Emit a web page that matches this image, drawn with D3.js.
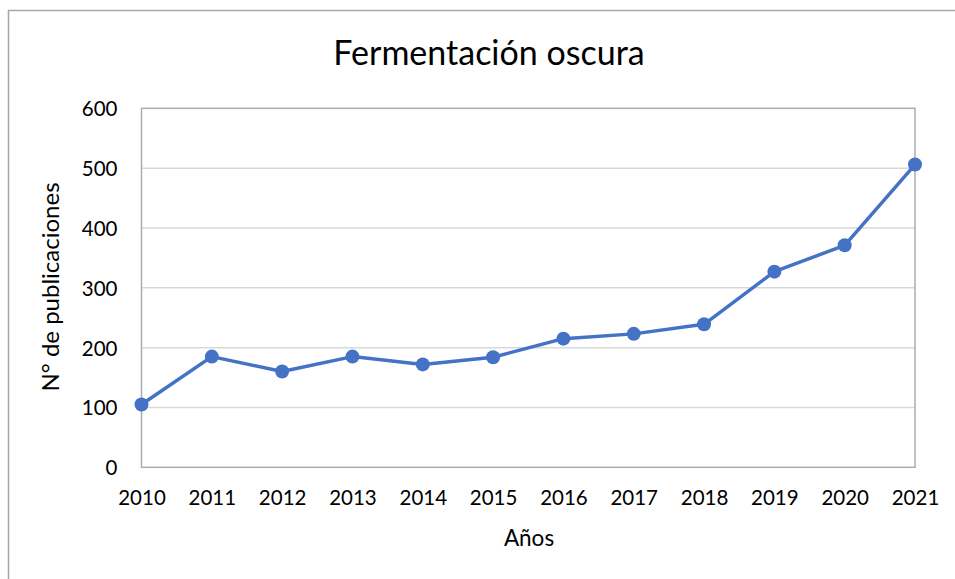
<!DOCTYPE html>
<html><head><meta charset="utf-8">
<script src="https://cdn.jsdelivr.net/npm/d3@7"></script>
<style>body{margin:0;background:#fff}svg{display:block}text{font-family:Lato,"Open Sans",sans-serif;fill:#000}</style>
</head><body><svg id="c" width="955" height="579"></svg>
<script>
const years = ["2010","2011","2012","2013","2014","2015","2016","2017","2018","2019","2020","2021"];
const publications = [105, 185, 160, 185, 172, 184, 215, 223, 239, 327, 371, 506];
const yTicks = [0, 100, 200, 300, 400, 500, 600];
const title = "Fermentación oscura";
const xTitle = "Años";
const yTitle = "N° de publicaciones";

const svg = d3.select("#c");
svg.append("rect").attr("x",8.5).attr("y",10.5).attr("width",960).attr("height",600)
  .attr("fill","#fff").attr("stroke","#a6a6a6").attr("stroke-width",1.5);

const L=141.5, R=915, T=108.3, B=467.3;
const x = d3.scalePoint().domain(years).range([L,R]);
const y = d3.scaleLinear().domain([0,600]).range([B,T]);

const g = svg.append("g");
g.selectAll("line.grid").data(yTicks.slice(1,-1)).join("line")
  .attr("x1",L).attr("x2",R).attr("y1",d=>y(d)).attr("y2",d=>y(d))
  .attr("stroke","#d9d9d9").attr("stroke-width",1.5);
g.append("rect").attr("x",L).attr("y",T).attr("width",R-L).attr("height",B-T)
  .attr("fill","none").attr("stroke","#adadad").attr("stroke-width",1.5);

const yAxis = d3.axisLeft(y).tickValues(yTicks).tickSize(0).tickPadding(24);
const ya = svg.append("g").attr("transform",`translate(${L},0)`).call(yAxis);
ya.select(".domain").remove();
ya.selectAll("text").attr("font-size",20.5).attr("font-family","Lato").attr("fill","#000").attr("dy","0.36em");

const xAxis = d3.axisBottom(x).tickSize(0).tickPadding(0);
const xa = svg.append("g").attr("transform",`translate(0,${B})`).call(xAxis);
xa.select(".domain").remove();
xa.selectAll("text").attr("font-size",20.5).attr("font-family","Lato").attr("fill","#000").attr("y",37.7).attr("dy",0);

const line = d3.line().x((d,i)=>x(years[i])).y(d=>y(d));
svg.append("path").datum(publications).attr("d",line).attr("fill","none")
  .attr("stroke","#4472c4").attr("stroke-width",3.5).attr("stroke-linejoin","round");
svg.selectAll("circle.pt").data(publications).join("circle")
  .attr("cx",(d,i)=>x(years[i])).attr("cy",d=>y(d)).attr("r",7).attr("fill","#4472c4");

svg.append("text").attr("x",489).attr("y",65).attr("text-anchor","middle").attr("font-size",34).text(title);
svg.append("text").attr("x",529).attr("y",546).attr("text-anchor","middle").attr("font-size",22.5).text(xTitle);
svg.append("text").attr("transform","translate(59,287) rotate(-90)").attr("text-anchor","middle").attr("font-size",24).text(yTitle);
</script></body></html>
